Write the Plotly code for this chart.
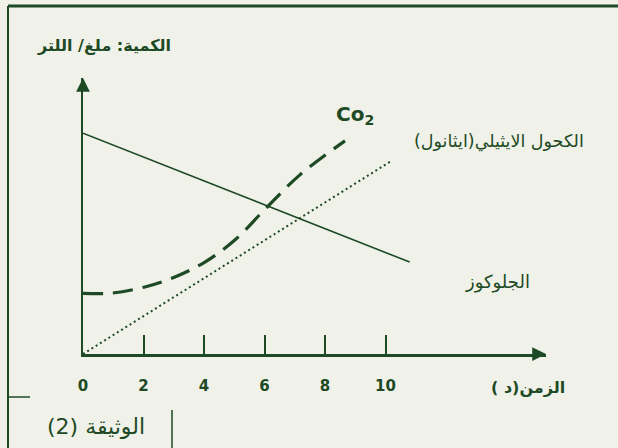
import plotly.graph_objects as go

# Data (y in arbitrary units, mg/L)
time_ticks = [0, 2, 4, 6, 8, 10]
tick_labels = ["0", "2", "4", "6", "8", "10"]

time_glucose = [0, 10.8]
glucose = [8.0, 3.33]

time_ethanol = [0, 10.2]
ethanol = [0, 7.0]

time_co2 = [0, 0.9, 2.05, 3.04, 4.03, 5.02, 6.02, 7.17, 8.66]
co2 = [2.2, 2.2, 2.43, 2.79, 3.33, 4.13, 5.25, 6.49, 7.72]

green = "#1d4a24"
bg = "#f0f1e9"

W, H = 618, 448
L, R, T, B = 83, 72, 78, 94
pw, ph = W - L - R, H - T - B


def px(x):
    return (x - L) / pw


def py(y):
    return (H - B - y) / ph


fig = go.Figure()

fig.add_trace(go.Scatter(x=time_glucose, y=glucose, mode="lines",
                         line=dict(color=green, width=1.6), hoverinfo="skip"))
fig.add_trace(go.Scatter(x=time_ethanol, y=ethanol, mode="lines",
                         line=dict(color=green, width=2, dash="2px,3px"), hoverinfo="skip"))
fig.add_trace(go.Scatter(x=time_co2, y=co2, mode="lines", line_shape="spline",
                         line=dict(color=green, width=3.2, dash="20px,10px"), hoverinfo="skip"))

fig.update_layout(
    width=W, height=H,
    margin=dict(l=L, r=R, t=T, b=B),
    paper_bgcolor=bg, plot_bgcolor=bg,
    showlegend=False,
    font=dict(family="DejaVu Sans", color=green),
)

fig.update_xaxes(
    range=[0, pw / 30.25], showgrid=False, zeroline=False,
    showline=True, linecolor=green, linewidth=2.5,
    tickvals=time_ticks, ticktext=tick_labels,
    ticks="inside", ticklen=19, tickwidth=1.6, tickcolor=green,
    tickfont=dict(family="DejaVu Sans", size=15, color=green, weight="bold"),
    ticklabelstandoff=16,
)
fig.update_yaxes(
    range=[0, ph / 27.6], showgrid=False, zeroline=False,
    showline=True, linecolor=green, linewidth=2.2,
    showticklabels=False, ticks="",
)

# arrowheads on the axes
fig.add_annotation(x=pw / 30.25, y=0, ax=-14, ay=0, text="", showarrow=True,
                   arrowhead=2, arrowsize=1.1, arrowwidth=2.5, arrowcolor=green)
fig.add_annotation(x=0, y=ph / 27.6, ax=0, ay=14, text="", showarrow=True,
                   arrowhead=2, arrowsize=1.1, arrowwidth=2.5, arrowcolor=green)

# texts
texts = [
    ("الكمية: ملغ/ اللتر", 104, 46, 16, True),
    ("Co<sub>2</sub>", 355, 115, 20, True),
    ("الكحول الايثيلي(ايثانول)", 499, 141, 17.5, False),
    ("الجلوكوز", 497, 282, 18, False),
    ("الزمن(د )", 528, 387, 16, True),
    ("الوثيقة (2)", 96, 426, 22, False),
]
for txt, x, y, size, bold in texts:
    fig.add_annotation(xref="paper", yref="paper", x=px(x), y=py(y), text=txt,
                       showarrow=False, xanchor="center", yanchor="middle",
                       font=dict(size=size, color=green, weight="bold" if bold else "normal"))

# frame lines
frame = [
    (8, 6, 618, 6, 3),
    (8, 6, 8, 448, 2),
    (8, 397, 30, 397, 1.5),
    (172, 410, 172, 448, 1.5),
]
for x0, y0, x1, y1, w in frame:
    fig.add_shape(type="line", xref="paper", yref="paper",
                  x0=px(x0), y0=py(y0), x1=px(x1), y1=py(y1),
                  line=dict(color=green, width=w))

fig.write_html("out.html", config={"displayModeBar": False},
               post_script="document.body.style.margin='0';")
